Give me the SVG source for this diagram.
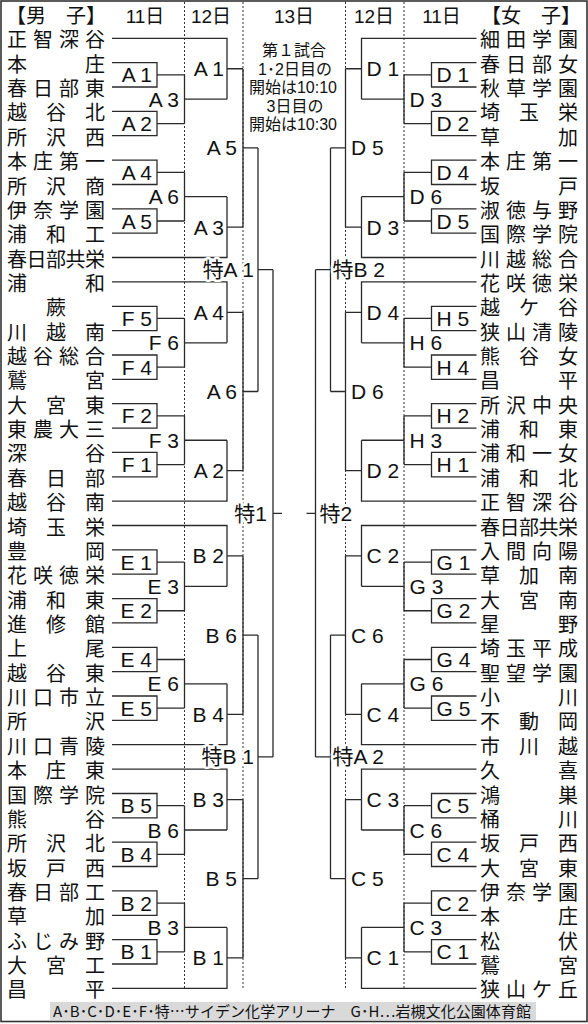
<svg xmlns="http://www.w3.org/2000/svg" xmlns:xlink="http://www.w3.org/1999/xlink" width="588" height="1024" viewBox="0 0 588 1024">
<style>
.n{font-family:"Liberation Sans","Noto Sans CJK JP","Noto Sans CJK SC",sans-serif;font-size:20px;fill:#111}
.l{font-family:"Liberation Sans","Noto Sans CJK JP",sans-serif;font-size:21px;fill:#111}
.e{text-anchor:end}
.h{paint-order:stroke;stroke:#fff;stroke-width:5px;stroke-linejoin:round}
.hd{font-family:"Liberation Sans","Noto Sans CJK JP",sans-serif;font-size:19px;fill:#111;text-anchor:middle}
.t{font-family:"Liberation Sans","Noto Sans CJK JP",sans-serif;font-size:16px;fill:#111;text-anchor:middle}
.br{fill:none;stroke:#2a2a2a;stroke-width:1.3}
.dt{fill:none;stroke:#333;stroke-width:1;stroke-dasharray:2 2}
</style>
<defs>
<path id="half" d="M112 62.7H157V87H112M157 74.85H184.5M112 111.4H157V135.7H112M157 123.55H184.5M184.5 74.85V123.55M184.5 99.2H227M112 38.3H227V99.2M227 68.75H243M112 160.1H157V184.5H112M157 172.3H184.5M112 208.8H157V233.2H112M157 221H184.5M184.5 172.3V221M184.5 196.65H227M112 257.5H227V196.65M227 227.1H243M243 68.75V227.1M243 147.9H258M112 281.9H227V342.8M227 312.35H243M112 306.3H157V330.6H112M157 318.45H184.5M112 355H157V379.3H112M157 367.15H184.5M184.5 318.45V367.15M184.5 342.8H227M112 403.7H157V428.1H112M157 415.9H184.5M112 452.4H157V476.8H112M157 464.6H184.5M184.5 415.9V464.6M184.5 440.25H227M112 501.1H227V440.25M227 470.7H243M243 312.35V470.7M243 391.5H258M258 147.9V391.5M258 269.7H273M112 525.5H227V586.4M227 555.95H243M112 549.9H157V574.2H112M157 562.05H184.5M112 598.6H157V622.9H112M157 610.75H184.5M184.5 562.05V610.75M184.5 586.4H227M112 647.3H157V671.7H112M157 659.5H184.5M112 696H157V720.4H112M157 708.2H184.5M184.5 659.5V708.2M184.5 683.85H227M112 744.7H227V683.85M227 714.3H243M243 555.95V714.3M243 635.1H258M112 769.1H227V830M227 799.55H243M112 793.5H157V817.8H112M157 805.65H184.5M112 842.2H157V866.5H112M157 854.35H184.5M184.5 805.65V854.35M184.5 830H227M112 890.9H157V915.3H112M157 903.1H184.5M112 939.6H157V964H112M157 951.8H184.5M184.5 903.1V951.8M184.5 927.45H227M112 988.3H227V927.45M227 957.9H243M243 799.55V957.9M243 878.7H258M258 635.1V878.7M258 756.9H273M273 269.7V756.9M273 513.3H282"/>
</defs>
<rect x="1" y="1" width="586" height="1020.5" fill="#fff" stroke="#333" stroke-width="1.6"/>
<g id="grid">
<path class="dt" d="M184.5 2V988M243 2V988M345.5 2V988M404 2V988"/>
</g>
<g id="connectors">
<use xlink:href="#half" href="#half" class="br"/>
<use xlink:href="#half" href="#half" class="br" transform="matrix(-1 0 0 1 588.5 0)"/>
</g>
<g id="header">
<text class="n" x="6" y="23">【男　子】</text>
<text class="n" x="581" y="23" style="text-anchor:end">【女　子】</text>
<text class="hd" x="145" y="23">11日</text>
<text class="hd" x="211" y="23">12日</text>
<text class="hd" x="294" y="23">13日</text>
<text class="hd" x="374" y="23">12日</text>
<text class="hd" x="441.5" y="23">11日</text>
</g>
<g id="note">
<text class="t" x="294" y="56">第１試合</text>
<text class="t" x="295" y="74.5">1･2日目の</text>
<text class="t" x="293" y="93">開始は10:10</text>
<text class="t" x="295" y="111.5">3日目の</text>
<text class="t" x="293" y="130">開始は10:30</text>
</g>
<g id="men" transform="translate(0 0.5)">
<g id="m01"><text class="n" x="7 33 59 85" y="46.8">正智深谷</text></g>
<g id="m02"><text class="n" x="7 85" y="71.2">本庄</text></g>
<g id="m03"><text class="n" x="7 33 59 85" y="95.5">春日部東</text></g>
<g id="m04"><text class="n" x="7 46 85" y="119.9">越谷北</text></g>
<g id="m05"><text class="n" x="7 46 85" y="144.2">所沢西</text></g>
<g id="m06"><text class="n" x="7 33 59 85" y="168.6">本庄第一</text></g>
<g id="m07"><text class="n" x="7 46 85" y="193">所沢商</text></g>
<g id="m08"><text class="n" x="7 33 59 85" y="217.3">伊奈学園</text></g>
<g id="m09"><text class="n" x="7 46 85" y="241.7">浦和工</text></g>
<g id="m10"><text class="n" x="7 26.5 46 65.5 85" y="266">春日部共栄</text></g>
<g id="m11"><text class="n" x="7 85" y="290.4">浦和</text></g>
<g id="m12"><text class="n" x="46" y="314.8">蕨</text></g>
<g id="m13"><text class="n" x="7 46 85" y="339.1">川越南</text></g>
<g id="m14"><text class="n" x="7 33 59 85" y="363.5">越谷総合</text></g>
<g id="m15"><text class="n" x="7 85" y="387.8">鷲宮</text></g>
<g id="m16"><text class="n" x="7 46 85" y="412.2">大宮東</text></g>
<g id="m17"><text class="n" x="7 33 59 85" y="436.6">東農大三</text></g>
<g id="m18"><text class="n" x="7 85" y="460.9">深谷</text></g>
<g id="m19"><text class="n" x="7 46 85" y="485.3">春日部</text></g>
<g id="m20"><text class="n" x="7 46 85" y="509.6">越谷南</text></g>
<g id="m21"><text class="n" x="7 46 85" y="534">埼玉栄</text></g>
<g id="m22"><text class="n" x="7 85" y="558.4">豊岡</text></g>
<g id="m23"><text class="n" x="7 33 59 85" y="582.7">花咲徳栄</text></g>
<g id="m24"><text class="n" x="7 46 85" y="607.1">浦和東</text></g>
<g id="m25"><text class="n" x="7 46 85" y="631.4">進修館</text></g>
<g id="m26"><text class="n" x="7 85" y="655.8">上尾</text></g>
<g id="m27"><text class="n" x="7 46 85" y="680.2">越谷東</text></g>
<g id="m28"><text class="n" x="7 33 59 85" y="704.5">川口市立</text></g>
<g id="m29"><text class="n" x="7 85" y="728.9">所沢</text></g>
<g id="m30"><text class="n" x="7 33 59 85" y="753.2">川口青陵</text></g>
<g id="m31"><text class="n" x="7 46 85" y="777.6">本庄東</text></g>
<g id="m32"><text class="n" x="7 33 59 85" y="802">国際学院</text></g>
<g id="m33"><text class="n" x="7 85" y="826.3">熊谷</text></g>
<g id="m34"><text class="n" x="7 46 85" y="850.7">所沢北</text></g>
<g id="m35"><text class="n" x="7 46 85" y="875">坂戸西</text></g>
<g id="m36"><text class="n" x="7 33 59 85" y="899.4">春日部工</text></g>
<g id="m37"><text class="n" x="7 85" y="923.8">草加</text></g>
<g id="m38"><text class="n" x="7 33 59 85" y="948.1">ふじみ野</text></g>
<g id="m39"><text class="n" x="7 46 85" y="972.5">大宮工</text></g>
<g id="m40"><text class="n" x="7 85" y="996.8">昌平</text></g>
</g>
<g id="women" transform="translate(0 0.5)">
<g id="w01"><text class="n" x="480 506 532 558" y="46.8">細田学園</text></g>
<g id="w02"><text class="n" x="480 506 532 558" y="71.2">春日部女</text></g>
<g id="w03"><text class="n" x="480 506 532 558" y="95.5">秋草学園</text></g>
<g id="w04"><text class="n" x="480 519 558" y="119.9">埼玉栄</text></g>
<g id="w05"><text class="n" x="480 558" y="144.2">草加</text></g>
<g id="w06"><text class="n" x="480 506 532 558" y="168.6">本庄第一</text></g>
<g id="w07"><text class="n" x="480 558" y="193">坂戸</text></g>
<g id="w08"><text class="n" x="480 506 532 558" y="217.3">淑徳与野</text></g>
<g id="w09"><text class="n" x="480 506 532 558" y="241.7">国際学院</text></g>
<g id="w10"><text class="n" x="480 506 532 558" y="266">川越総合</text></g>
<g id="w11"><text class="n" x="480 506 532 558" y="290.4">花咲徳栄</text></g>
<g id="w12"><text class="n" x="480 519 558" y="314.8">越ケ谷</text></g>
<g id="w13"><text class="n" x="480 506 532 558" y="339.1">狭山清陵</text></g>
<g id="w14"><text class="n" x="480 519 558" y="363.5">熊谷女</text></g>
<g id="w15"><text class="n" x="480 558" y="387.8">昌平</text></g>
<g id="w16"><text class="n" x="480 506 532 558" y="412.2">所沢中央</text></g>
<g id="w17"><text class="n" x="480 519 558" y="436.6">浦和東</text></g>
<g id="w18"><text class="n" x="480 506 532 558" y="460.9">浦和一女</text></g>
<g id="w19"><text class="n" x="480 519 558" y="485.3">浦和北</text></g>
<g id="w20"><text class="n" x="480 506 532 558" y="509.6">正智深谷</text></g>
<g id="w21"><text class="n" x="480 499.5 519 538.5 558" y="534">春日部共栄</text></g>
<g id="w22"><text class="n" x="480 506 532 558" y="558.4">入間向陽</text></g>
<g id="w23"><text class="n" x="480 519 558" y="582.7">草加南</text></g>
<g id="w24"><text class="n" x="480 519 558" y="607.1">大宮南</text></g>
<g id="w25"><text class="n" x="480 558" y="631.4">星野</text></g>
<g id="w26"><text class="n" x="480 506 532 558" y="655.8">埼玉平成</text></g>
<g id="w27"><text class="n" x="480 506 532 558" y="680.2">聖望学園</text></g>
<g id="w28"><text class="n" x="480 558" y="704.5">小川</text></g>
<g id="w29"><text class="n" x="480 519 558" y="728.9">不動岡</text></g>
<g id="w30"><text class="n" x="480 519 558" y="753.2">市川越</text></g>
<g id="w31"><text class="n" x="480 558" y="777.6">久喜</text></g>
<g id="w32"><text class="n" x="480 558" y="802">鴻巣</text></g>
<g id="w33"><text class="n" x="480 558" y="826.3">桶川</text></g>
<g id="w34"><text class="n" x="480 519 558" y="850.7">坂戸西</text></g>
<g id="w35"><text class="n" x="480 519 558" y="875">大宮東</text></g>
<g id="w36"><text class="n" x="480 506 532 558" y="899.4">伊奈学園</text></g>
<g id="w37"><text class="n" x="480 558" y="923.8">本庄</text></g>
<g id="w38"><text class="n" x="480 558" y="948.1">松伏</text></g>
<g id="w39"><text class="n" x="480 558" y="972.5">鷲宮</text></g>
<g id="w40"><text class="n" x="480 506 532 558" y="996.8">狭山ケ丘</text></g>
</g>
<g id="men-matches">
<g id="mA1a"><text class="l e" x="152" y="82.35">A 1</text></g>
<g id="mA2a"><text class="l e" x="152" y="131.05">A 2</text></g>
<g id="mA4a"><text class="l e" x="152" y="179.8">A 4</text></g>
<g id="mA5a"><text class="l e" x="152" y="228.5">A 5</text></g>
<g id="mF5"><text class="l e" x="152" y="325.95">F 5</text></g>
<g id="mF4"><text class="l e" x="152" y="374.65">F 4</text></g>
<g id="mF2"><text class="l e" x="152" y="423.4">F 2</text></g>
<g id="mF1"><text class="l e" x="152" y="472.1">F 1</text></g>
<g id="mE1"><text class="l e" x="152" y="569.55">E 1</text></g>
<g id="mE2"><text class="l e" x="152" y="618.25">E 2</text></g>
<g id="mE4"><text class="l e" x="152" y="667">E 4</text></g>
<g id="mE5"><text class="l e" x="152" y="715.7">E 5</text></g>
<g id="mB5a"><text class="l e" x="152" y="813.15">B 5</text></g>
<g id="mB4a"><text class="l e" x="152" y="861.85">B 4</text></g>
<g id="mB2a"><text class="l e" x="152" y="910.6">B 2</text></g>
<g id="mB1a"><text class="l e" x="152" y="959.3">B 1</text></g>
<g id="mA3a"><text class="l e" x="179" y="106.7">A 3</text></g>
<g id="mA6a"><text class="l e" x="179" y="204.15">A 6</text></g>
<g id="mF6"><text class="l e" x="179" y="350.3">F 6</text></g>
<g id="mF3"><text class="l e" x="179" y="447.75">F 3</text></g>
<g id="mE3"><text class="l e" x="179" y="593.9">E 3</text></g>
<g id="mE6"><text class="l e" x="179" y="691.35">E 6</text></g>
<g id="mB6a"><text class="l e" x="179" y="837.5">B 6</text></g>
<g id="mB3a"><text class="l e" x="179" y="934.95">B 3</text></g>
<g id="mA1b"><text class="l e" x="224" y="76.25">A 1</text></g>
<g id="mA3b"><text class="l e" x="224" y="234.6">A 3</text></g>
<g id="mA4b"><text class="l e" x="224" y="319.85">A 4</text></g>
<g id="mA2b"><text class="l e" x="224" y="478.2">A 2</text></g>
<g id="mB2b"><text class="l e" x="224" y="563.45">B 2</text></g>
<g id="mB4b"><text class="l e" x="224" y="721.8">B 4</text></g>
<g id="mB3b"><text class="l e" x="224" y="807.05">B 3</text></g>
<g id="mB1b"><text class="l e" x="224" y="965.4">B 1</text></g>
<g id="mA5b"><text class="l e" x="237" y="155.4">A 5</text></g>
<g id="mA6b"><text class="l e" x="237" y="399">A 6</text></g>
<g id="mB6b"><text class="l e" x="237" y="642.6">B 6</text></g>
<g id="mB5b"><text class="l e" x="237" y="886.2">B 5</text></g>
<g id="mSA1"><text class="l e h" x="254" y="277.2">特A 1</text></g>
<g id="mSB1"><text class="l e h" x="254" y="764.4">特B 1</text></g>
<g id="mS1"><text class="l e h" x="267" y="520.8">特1</text></g>
</g>
<g id="women-matches">
<g id="wD1a"><text class="l" x="436.5" y="82.35">D 1</text></g>
<g id="wD2a"><text class="l" x="436.5" y="131.05">D 2</text></g>
<g id="wD4a"><text class="l" x="436.5" y="179.8">D 4</text></g>
<g id="wD5a"><text class="l" x="436.5" y="228.5">D 5</text></g>
<g id="wH5"><text class="l" x="436.5" y="325.95">H 5</text></g>
<g id="wH4"><text class="l" x="436.5" y="374.65">H 4</text></g>
<g id="wH2"><text class="l" x="436.5" y="423.4">H 2</text></g>
<g id="wH1"><text class="l" x="436.5" y="472.1">H 1</text></g>
<g id="wG1"><text class="l" x="436.5" y="569.55">G 1</text></g>
<g id="wG2"><text class="l" x="436.5" y="618.25">G 2</text></g>
<g id="wG4"><text class="l" x="436.5" y="667">G 4</text></g>
<g id="wG5"><text class="l" x="436.5" y="715.7">G 5</text></g>
<g id="wC5a"><text class="l" x="436.5" y="813.15">C 5</text></g>
<g id="wC4a"><text class="l" x="436.5" y="861.85">C 4</text></g>
<g id="wC2a"><text class="l" x="436.5" y="910.6">C 2</text></g>
<g id="wC1a"><text class="l" x="436.5" y="959.3">C 1</text></g>
<g id="wD3a"><text class="l" x="409.5" y="106.7">D 3</text></g>
<g id="wD6a"><text class="l" x="409.5" y="204.15">D 6</text></g>
<g id="wH6"><text class="l" x="409.5" y="350.3">H 6</text></g>
<g id="wH3"><text class="l" x="409.5" y="447.75">H 3</text></g>
<g id="wG3"><text class="l" x="409.5" y="593.9">G 3</text></g>
<g id="wG6"><text class="l" x="409.5" y="691.35">G 6</text></g>
<g id="wC6a"><text class="l" x="409.5" y="837.5">C 6</text></g>
<g id="wC3a"><text class="l" x="409.5" y="934.95">C 3</text></g>
<g id="wD1b"><text class="l" x="366.5" y="76.25">D 1</text></g>
<g id="wD3b"><text class="l" x="366.5" y="234.6">D 3</text></g>
<g id="wD4b"><text class="l" x="366.5" y="319.85">D 4</text></g>
<g id="wD2b"><text class="l" x="366.5" y="478.2">D 2</text></g>
<g id="wC2b"><text class="l" x="366.5" y="563.45">C 2</text></g>
<g id="wC4b"><text class="l" x="366.5" y="721.8">C 4</text></g>
<g id="wC3b"><text class="l" x="366.5" y="807.05">C 3</text></g>
<g id="wC1b"><text class="l" x="366.5" y="965.4">C 1</text></g>
<g id="wD5b"><text class="l" x="351" y="155.4">D 5</text></g>
<g id="wD6b"><text class="l" x="351" y="399">D 6</text></g>
<g id="wC6b"><text class="l" x="351" y="642.6">C 6</text></g>
<g id="wC5b"><text class="l" x="351" y="886.2">C 5</text></g>
<g id="wSB2"><text class="l h" x="332.5" y="277.2">特B 2</text></g>
<g id="wSA2"><text class="l h" x="332.5" y="764.4">特A 2</text></g>
<g id="wS2"><text class="l h" x="319.5" y="520.8">特2</text></g>
</g>
<g id="footer">
<rect x="50" y="1002" width="486" height="18" fill="#d9d9d9"/>
<text x="53" y="1016.5" textLength="478" lengthAdjust="spacing" style="font-family:'Noto Sans CJK JP','Noto Sans CJK SC',sans-serif;font-size:15px;fill:#111">A･B･C･D･E･F･特…サイデン化学アリーナ　G･H…岩槻文化公園体育館</text>
</g>
</svg>
